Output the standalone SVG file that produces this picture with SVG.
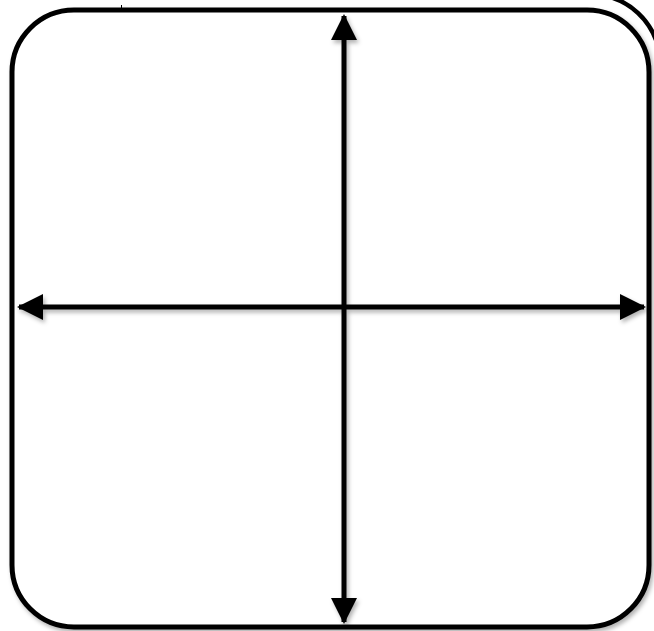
<svg xmlns="http://www.w3.org/2000/svg" width="654" height="631" viewBox="0 0 654 631">
  <defs>
    <filter id="sh" x="-10%" y="-10%" width="120%" height="120%">
      <feDropShadow dx="2" dy="3" stdDeviation="2" flood-color="#000" flood-opacity="0.3"/>
    </filter>
    <marker id="ah" viewBox="0 0 26 26" refX="24" refY="13" markerWidth="26" markerHeight="26" markerUnits="userSpaceOnUse" orient="auto-start-reverse">
      <path d="M0,0 L26,13 L0,26 Z" fill="#000"/>
    </marker>
    <style>
      .frame { fill: #fff; stroke: #000; stroke-width: 5; }
      .outer { fill: none; stroke: #000; stroke-width: 4.5; }
      .axis { fill: none; stroke: #000; stroke-width: 5; }
    </style>
  </defs>
  <rect width="654" height="631" fill="#fff"/>
  <g id="back-frame">
    <path class="outer" d="M610,-3 A70,70 0 0 1 656,40"/>
  </g>
  <g id="frame" filter="url(#sh)">
    <rect class="frame" x="12" y="10" width="637" height="617" rx="62" ry="62"/>
    <line x1="121.5" y1="5" x2="121.5" y2="12" stroke="#000" stroke-width="1"/>
  </g>
  <g id="connectors" filter="url(#sh)">
    <line class="axis" x1="344" y1="300" x2="344" y2="16" marker-end="url(#ah)"/>
    <line class="axis" x1="344" y1="300" x2="344" y2="622" marker-end="url(#ah)"/>
    <line class="axis" x1="344" y1="307" x2="19" y2="307" marker-end="url(#ah)"/>
    <line class="axis" x1="344" y1="307" x2="644" y2="307" marker-end="url(#ah)"/>
  </g>
</svg>
